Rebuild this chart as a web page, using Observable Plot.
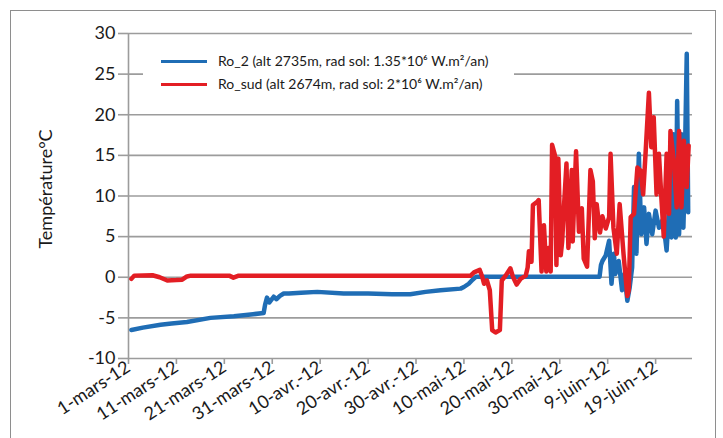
<!DOCTYPE html>
<html>
<head>
<meta charset="utf-8">
<script src="https://cdn.jsdelivr.net/npm/d3@7"></script>
<script src="https://cdn.jsdelivr.net/npm/@observablehq/plot@0.6"></script>
<style>
  html, body { margin: 0; padding: 0; background: #fff; }
  #wrap { position: relative; width: 723px; height: 438px; overflow: hidden; font-family: Lato, "Open Sans", sans-serif; color: #1a1a1a; }
  #border { position: absolute; left: 10px; top: 10px; width: 706px; height: 440px; border: 1.5px solid #8e8e8e; box-sizing: border-box; }
  #legend { position: absolute; left: 143px; top: 43px; width: 371px; height: 56px; background: #fff; }
  .row { position: absolute; left: 0; height: 20px; font-size: 14px; line-height: 20px; white-space: nowrap; }
  .sw { position: absolute; left: 18px; top: 9px; width: 46px; height: 3px; }
  .lab { position: absolute; left: 75px; top: 0; }
</style>
</head>
<body>
<div id="wrap">
  <div id="border"></div>
  <div id="chart"></div>
  <div id="legend"></div>
</div>
<script>
// ---- data (day offsets from 1 March 2012, temperature °C) ----
const ro2Day  = [0.6, 3, 6.7, 9, 12.2, 17.1, 22, 26, 28.2, 28.5, 28.9, 29.4, 30.3, 30.9, 31.6, 32.4, 33.5, 36, 39.4, 44.9, 50, 55, 58.8, 62, 65.1, 69.3, 70, 71, 71.8, 72.5, 98.3,
  98.6, 98.9, 99.6, 100.3, 100.8, 101.3, 101.6, 102.3, 103.0, 103.5, 104.1, 104.6, 105.1, 105.5, 106.0, 106.5, 107.0, 107.6, 108.1, 108.6, 109.3, 110.0, 110.7, 111.4, 111.9, 112.3, 112.8, 113.3, 113.7, 114.2, 114.5, 114.9, 115.4, 115.8, 116.0, 116.5, 116.8];
const ro2Temp = [-6.5, -6.2, -5.85, -5.7, -5.5, -5.0, -4.8, -4.55, -4.4, -3.4, -2.5, -3.1, -2.4, -2.7, -2.3, -2.0, -2.0, -1.9, -1.8, -2.0, -2.0, -2.1, -2.1, -1.8, -1.6, -1.4, -1.2, -0.8, -0.3, 0.05, 0.05,
  1.5, 2.0, 2.7, 4.5, -0.8, 2.9, 0.4, 2.0, -1.6, 0.4, -2.9, -1.2, 1.2, 11.1, 2.9, 15.2, 5.3, 8.6, 4.1, 7.8, 5.3, 8.2, 6.1, 7.0, 5.3, 3.3, 8.6, 4.9, 17.6, 4.9, 21.7, 5.3, 17.6, 6.1, 10.7, 27.5, 8];

const roSudDay  = [0.6, 1.2, 5, 6.5, 8.1, 10, 11.2, 12.2, 13, 21, 21.9, 23, 71.4, 72.1, 73.3, 73.8, 74.2, 74.8, 75.4, 75.9, 76.6, 77.5, 77.9, 78.7, 79.7, 80.2, 81, 81.8, 82.9, 83.3,
  83.56, 84.1, 84.4, 85.3, 85.6, 86.2, 86.7, 87.2, 87.6, 88.1, 88.4, 89.0, 89.3, 89.7, 90.2, 90.5, 90.9, 91.4, 91.8, 92.5, 92.7, 93.4, 94.0, 94.6, 95.0, 95.7, 96.4, 96.9, 97.3,
  97.7, 98.4, 98.9, 99.6, 100.3, 100.6, 101.2, 101.9, 102.5, 103.3, 104.1, 104.4, 104.8, 105.5, 106.2, 106.9, 107.4, 107.9, 108.6, 109.1, 109.6, 110.2, 110.7, 111.2, 111.7, 112.3, 112.8, 113.1, 113.8, 114.4, 114.9, 115.4, 115.9, 116.5, 116.9];
const roSudTemp = [-0.2, 0.2, 0.25, 0, -0.4, -0.35, -0.3, 0.1, 0.2, 0.2, -0.05, 0.2, 0.2, 0.6, 0.9, 0.1, -0.8, -0.4, -1.6, -6.5, -6.8, -6.5, -0.4, 0.2, 1.1, 0.1, -0.9, -0.2, 0.2, 1.2,
  3.2, 1.9, 8.9, 9.3, 9.5, 0.7, 6.4, 0.7, 3.6, 0.7, 16.3, 15, 1.5, 14.6, 2.7, 4.4, 8.9, 14, 3.6, 13.2, 4.4, 15.5, 5.6, 8.5, 2.3, 1.3, 13.2, 11.8, 4.8,
  9.0, 5.5, 7.5, 6.0, 7.4, 15.2, 6.1, 2.9, 9.0, 2.9, -2.3, -1.6, 7.4, 7.8, 13.5, 13.1, 10.2, 15.2, 22.7, 16, 19.7, 10.2, 15.2, 9.8, 5.0, 15.2, 7.8, 18, 14.3, 8.6, 18, 8.6, 16.8, 11.1, 16.2];

const tickDays   = [0, 10, 20, 30, 40, 50, 60, 70, 80, 90, 100, 110];
const tickLabels = ["1-mars-12", "11-mars-12", "21-mars-12", "31-mars-12", "10-avr.-12", "20-avr.-12", "30-avr.-12", "10-mai-12", "20-mai-12", "30-mai-12", "9-juin-12", "19-juin-12"];
const yTicks = [-10, -5, 0, 5, 10, 15, 20, 25, 30];
const seriesNames  = ["Ro_2 (alt 2735m, rad sol: 1.35*10⁶ W.m²/an)", "Ro_sud (alt 2674m, rad sol: 2*10⁶ W.m²/an)"];
const seriesColors = ["#1f6db5", "#e31e24"];

// ---- build ----
const startMs = Date.UTC(2012, 2, 1);
const toDate = d => new Date(startMs + d * 864e5);
const ro2 = ro2Day.map((d, i) => ({date: toDate(d), t: ro2Temp[i]}));
const roSud = roSudDay.map((d, i) => ({date: toDate(d), t: roSudTemp[i]}));
const tickDates = tickDays.map(toDate);
const labelMap = new Map(tickDates.map((d, i) => [+d, tickLabels[i]]));
const gridColor = "#9c9c9c";

const chart = Plot.plot({
  width: 723,
  height: 438,
  marginLeft: 128,
  marginRight: 31,
  marginTop: 33,
  marginBottom: 80,
  style: {fontFamily: "Lato, 'Open Sans', sans-serif", color: "#1a1a1a", background: "transparent"},
  x: {type: "utc", domain: [toDate(0), toDate(117.7)]},
  y: {domain: [-10, 30]},
  marks: [
    Plot.gridY(yTicks, {stroke: gridColor, strokeOpacity: 1, strokeWidth: 1.6}),
    Plot.ruleX([toDate(0)], {stroke: gridColor, strokeWidth: 1.6}),
    Plot.axisY(yTicks, {tickSize: 10, tickPadding: 3, fontSize: 18, stroke: gridColor, strokeWidth: 1.6, label: null, tickFormat: d => String(d)}),
    Plot.axisX(tickDates, {tickSize: 6, tickPadding: 1, fontSize: 18, tickRotate: -33, stroke: gridColor, strokeWidth: 1.6, label: null, tickFormat: d => labelMap.get(+d)}),
    Plot.line(ro2, {x: "date", y: "t", stroke: seriesColors[0], strokeWidth: 4.5, strokeLinejoin: "round", strokeLinecap: "round"}),
    Plot.line(roSud, {x: "date", y: "t", stroke: seriesColors[1], strokeWidth: 4.5, strokeLinejoin: "round", strokeLinecap: "round"})
  ]
});
document.getElementById("chart").appendChild(chart);

// y-axis title
d3.select(chart).append("text")
  .attr("transform", "translate(47,189) rotate(-90)")
  .attr("text-anchor", "middle")
  .attr("dominant-baseline", "middle")
  .attr("font-size", 18)
  .attr("fill", "#1a1a1a")
  .text("Température°C");

// legend
const legend = d3.select("#legend");
seriesNames.forEach((name, i) => {
  const row = legend.append("div").attr("class", "row").style("top", (8 + i * 23) + "px");
  row.append("div").attr("class", "sw").style("background", seriesColors[i]);
  row.append("div").attr("class", "lab").text(name);
});
</script>
</body>
</html>
